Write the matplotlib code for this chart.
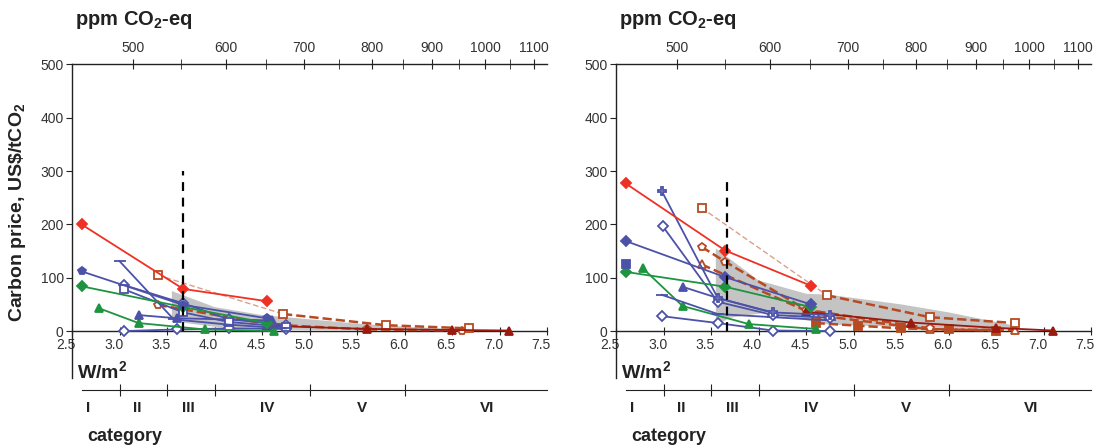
import numpy as np
import matplotlib.pyplot as plt
from matplotlib.transforms import ScaledTranslation

plt.rcParams['font.family'] = ['Liberation Sans', 'DejaVu Sans']
plt.rcParams['mathtext.fontset'] = 'custom'
plt.rcParams['mathtext.rm'] = 'Liberation Sans'
plt.rcParams['mathtext.bf'] = 'Liberation Sans:bold'

# carbon price (US$/tCO2) against forcing (W/m2)
# ---- left panel ----
L_red_x = [2.6, 3.67, 4.55];             L_red_y = [200, 79, 56]
L_brsq_x = [3.4, 4.72, 5.8, 6.68];       L_brsq_y = [105, 32, 11, 5]
L_brhs_x = [3.4, 4.6, 5.6, 6.6];         L_brhs_y = [49, 12, 3, 1]
L_blhs_x = [2.6, 3.67, 4.55];            L_blhs_y = [112, 49, 24]
L_grd_x = [2.6, 3.67, 4.55];             L_grd_y = [84, 45, 15]
L_bldash_x = [3.0, 3.57, 4.15, 4.75];    L_bldash_y = [131, 22, 12, 5]
L_blsq_x = [3.05, 3.67, 4.15, 4.75];     L_blsq_y = [78, 35, 17, 8]
L_blod_x = [3.05, 3.67, 4.15, 4.75];     L_blod_y = [86, 52, 22, 12]
L_grtri_x = [2.78, 3.2, 3.9, 4.62];      L_grtri_y = [43, 15, 3, 0]
L_bltri_x = [3.2, 3.6, 4.6];             L_bltri_y = [30, 24, 20]
L_blsd_x = [3.05, 3.6, 4.15, 4.75];      L_blsd_y = [0, 3, 5, 4]
L_drtri_x = [4.55, 5.6, 6.5, 7.1];       L_drtri_y = [10, 4, 2, 1]
L_band_up_x = [3.55, 3.7, 4.0, 4.5, 5.0, 5.5, 6.0, 6.5, 6.7]
L_band_up_y = [75, 65, 45, 30, 22, 14, 8, 4, 2]
L_band_lo_x = [3.55, 3.7, 4.0, 4.5, 5.0, 6.7]
L_band_lo_y = [20, 15, 8, 3, 2, 0]

# ---- right panel ----
R_red_x = [2.6, 3.65, 4.55];             R_red_y = [277, 151, 85]
R_brsq_x = [3.4, 4.72, 5.8, 6.7];        R_brsq_y = [231, 67, 26, 15]
R_brhs_x = [3.4, 3.65, 4.5, 5.8];        R_brhs_y = [158, 130, 40, 5]
R_brtri_x = [3.4, 4.6, 5.8, 6.7];        R_brtri_y = [125, 30, 3, 2]
R_bld_x = [2.6, 3.65, 4.55];             R_bld_y = [169, 101, 50]
R_blfsq_x = [2.6];                       R_blfsq_y = [125]
R_grd_x = [2.6, 3.65, 4.55];             R_grd_y = [111, 83, 45]
R_grtri_x = [2.78, 3.2, 3.9, 4.6];       R_grtri_y = [118, 47, 13, 4]
R_blplus_x = [2.98, 3.57, 4.15, 4.75];   R_blplus_y = [263, 62, 35, 30]
R_blod_x = [2.99, 3.57, 4.15, 4.75];     R_blod_y = [197, 55, 30, 25]
R_bltri_x = [3.2, 3.57, 4.15];           R_bltri_y = [83, 62, 34]
R_bldash_x = [2.98, 3.57, 4.15, 4.75];   R_bldash_y = [68, 32, 26, 20]
R_blsd_x = [2.98, 3.57, 4.15, 4.75];     R_blsd_y = [28, 15, 1, 0]
R_drtri_x = [4.5, 5.6, 6.5, 7.1];        R_drtri_y = [36, 16, 6, 1]
R_brfd_x = [4.6, 5.05, 5.5, 6.0, 6.5];   R_brfd_y = [15, 10, 5, 3, 1]
R_band_up_x = [3.55, 3.7, 4.0, 4.5, 4.75, 5.5, 6.0, 6.5, 6.7]
R_band_up_y = [155, 135, 95, 70, 68, 50, 35, 17, 10]
R_band_lo_x = [3.55, 3.7, 4.1, 4.5, 4.75, 5.5, 6.5, 6.7]
R_band_lo_y = [10, 25, 35, 20, 12, 8, 3, 3]

vline_x = 3.67
xticks = [2.5, 3.0, 3.5, 4.0, 4.5, 5.0, 5.5, 6.0, 6.5, 7.0, 7.5]
yticks = [0, 100, 200, 300, 400, 500]
ppm_major = [500, 600, 700, 800, 900, 1000, 1100]
ppm_minor = [550, 650, 750, 850, 950, 1050]
cat_edges = [3.0, 3.5, 4.0, 5.0, 6.0]
cat_names = ['I', 'II', 'III', 'IV', 'V', 'VI']
cat_pos = [2.67, 3.19, 3.72, 4.55, 5.55, 6.87]

RED = '#ee3124'
BLUE = '#4b52a8'
GREEN = '#1e9440'
BROWN = '#b84a22'
DRED = '#9a1a10'
TXT = '#333333'

# (x, y, colour, marker, filled, linestyle, first segment faint)
left_series = [
    (L_brhs_x, L_brhs_y, BROWN, 'p', False, '--', False),
    (L_brsq_x, L_brsq_y, BROWN, 's', False, '--', True),
    (L_drtri_x, L_drtri_y, DRED, '^', True, '-', False),
    (L_blsd_x, L_blsd_y, BLUE, 'D', False, '-', False),
    (L_grtri_x, L_grtri_y, GREEN, '^', True, '-', False),
    (L_bltri_x, L_bltri_y, BLUE, '^', True, '-', False),
    (L_blod_x, L_blod_y, BLUE, 'D', False, '-', False),
    (L_blsq_x, L_blsq_y, BLUE, 's', False, '-', False),
    (L_bldash_x, L_bldash_y, BLUE, '_', True, '-', False),
    (L_grd_x, L_grd_y, GREEN, 'D', True, '-', False),
    (L_blhs_x, L_blhs_y, BLUE, 'p', True, '-', False),
    (L_red_x, L_red_y, RED, 'D', True, '-', False),
]
right_series = [
    (R_brfd_x, R_brfd_y, BROWN, 's', True, '--', False),
    (R_brtri_x, R_brtri_y, BROWN, '^', False, '--', False),
    (R_brhs_x, R_brhs_y, BROWN, 'p', False, '--', False),
    (R_brsq_x, R_brsq_y, BROWN, 's', False, '--', True),
    (R_drtri_x, R_drtri_y, DRED, '^', True, '-', False),
    (R_blsd_x, R_blsd_y, BLUE, 'D', False, '-', False),
    (R_grtri_x, R_grtri_y, GREEN, '^', True, '-', False),
    (R_bldash_x, R_bldash_y, BLUE, '_', True, '-', False),
    (R_bltri_x, R_bltri_y, BLUE, '^', True, '-', False),
    (R_blod_x, R_blod_y, BLUE, 'D', False, '-', False),
    (R_blplus_x, R_blplus_y, BLUE, 'P', False, '-', False),
    (R_grd_x, R_grd_y, GREEN, 'D', True, '-', False),
    (R_bld_x, R_bld_y, BLUE, 'D', True, '-', False),
    (R_blfsq_x, R_blfsq_y, BLUE, 's', True, '-', False),
    (R_red_x, R_red_y, RED, 'D', True, '-', False),
]


def to_ppm(f):
    return 278.0 * np.exp(np.asarray(f, dtype=float) / 5.35)


def to_wm2(c):
    c = np.clip(np.asarray(c, dtype=float), 1e-6, None)
    return 5.35 * np.log(c / 278.0)


def draw_panel(fig, left, series, band, vtop):
    ax = fig.add_axes([left, 0.1563, 0.430, 0.6998])
    ux, uy, lx, ly = band
    ax.fill(np.concatenate([ux, lx[::-1]]), np.concatenate([uy, ly[::-1]]),
            color='#c4c4c4', lw=0, zorder=1)
    for x, y, c, m, filled, ls, faint in series:
        lw = 1.3 if ls == '-' else 1.8
        if faint:
            # thin pale dashes on the first segment
            ax.plot(x[:2], y[:2], color='#d9a08a', ls=(0, (4, 2)), lw=1.0,
                    zorder=2)
            ax.plot(x[1:], y[1:], color=c, ls=ls, lw=lw, zorder=3)
        else:
            ax.plot(x, y, color=c, ls=ls, lw=lw, zorder=3)
        ax.plot(x, y, ls='none', marker=m, ms=5.5 if m != '_' else 8,
                mew=1.3, mfc=c if filled else 'white', mec=c, zorder=3,
                clip_on=False)
    ax.plot([vline_x, vline_x], [0, vtop], color='black', ls=(0, (4, 3)),
            lw=1.6, zorder=4)

    ax.set_xlim(2.5, 7.5)
    ax.set_ylim(-88, 500)
    ax.spines['right'].set_visible(False)
    ax.spines['top'].set_visible(False)
    ax.spines['bottom'].set_position(('data', 0))
    for s in ['left', 'bottom']:
        ax.spines[s].set_linewidth(1.0)
        ax.spines[s].set_color('#222222')
    ax.set_xticks(xticks)
    ax.set_xticklabels(['%.1f' % v for v in xticks])
    ax.set_yticks(yticks)
    ax.tick_params(axis='x', direction='inout', length=6, pad=2,
                   labelsize=10, labelcolor=TXT, color='#222222')
    ax.tick_params(axis='y', direction='out', length=4, pad=2,
                   labelsize=10, labelcolor=TXT, color='#222222')
    off = ScaledTranslation(-6 / 100, 0, fig.dpi_scale_trans)
    for lab in ax.get_xticklabels():
        lab.set_transform(lab.get_transform() + off)

    sec = ax.secondary_xaxis('top', functions=(to_ppm, to_wm2))
    sec.set_xticks(ppm_major)
    sec.set_xticklabels([str(v) for v in ppm_major])
    sec.set_xticks(ppm_minor, minor=True)
    sec.tick_params(which='both', direction='inout', length=7, pad=3,
                    labelsize=10, labelcolor=TXT, color='#222222')
    sec.spines['top'].set_linewidth(1.0)
    sec.spines['top'].set_color('#222222')

    # category axis below
    cax = fig.add_axes([left, 0.0067, 0.430, 0.1228])
    cax.set_xlim(2.5, 7.5)
    cax.set_ylim(0, 1)
    for s in ['left', 'right', 'bottom']:
        cax.spines[s].set_visible(False)
    cax.spines['top'].set_bounds(2.6, 7.5)
    cax.spines['top'].set_color('#222222')
    cax.xaxis.tick_top()
    cax.set_xticks(cat_edges)
    cax.set_xticklabels([])
    cax.set_yticks([])
    cax.tick_params(axis='x', direction='inout', length=8, color='#222222')
    cax.patch.set_visible(False)
    for name, p in zip(cat_names, cat_pos):
        cax.text(p, 0.67, name, ha='center', va='center', fontsize=11,
                 fontweight='bold', color='#222222')
    cax.text(2.66, 0.15, 'category', ha='left', va='center', fontsize=13,
             fontweight='bold', color='#222222')
    cax.text(2.55, 1.33, r'W/m$^\mathbf{2}$', ha='left', va='center',
             fontsize=14, fontweight='bold', color='#222222')
    return ax


fig = plt.figure(figsize=(11.05, 4.48), dpi=100)

draw_panel(fig, 0.0652, left_series,
           (L_band_up_x, L_band_up_y, L_band_lo_x, L_band_lo_y), 300)
draw_panel(fig, 0.5575, right_series,
           (R_band_up_x, R_band_up_y, R_band_lo_x, R_band_lo_y), 290)

for xl in [75 / 1105, 619 / 1105]:
    fig.text(xl, 1 - 20 / 448, r'ppm CO$_\mathbf{2}$-eq', ha='left',
             va='center', fontsize=14.5, fontweight='bold', color='#222222')

fig.text(18 / 1105, 1 - 212 / 448, r'Carbon price, US\$/tCO$_\mathbf{2}$',
         rotation=90, ha='center', va='center', fontsize=14,
         fontweight='bold', color='#222222')

fig.savefig('out.png', dpi=100)
